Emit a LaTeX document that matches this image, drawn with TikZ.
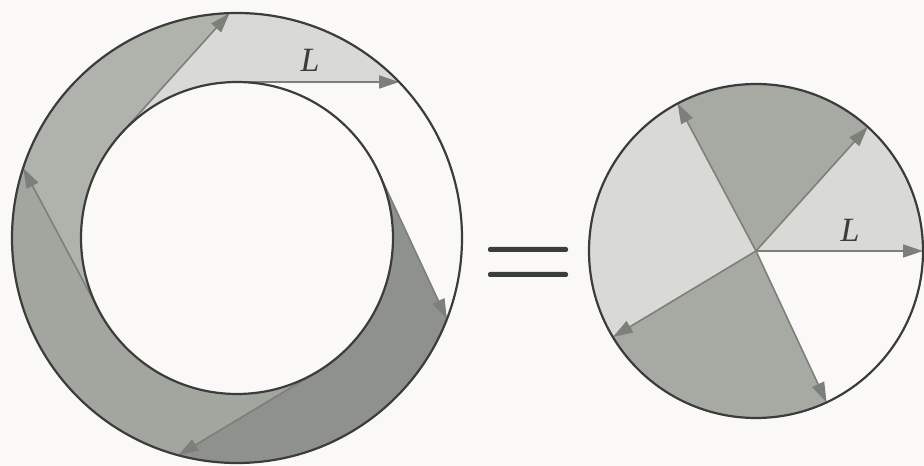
\documentclass[tikz,border=0pt]{standalone}
\usepackage{fontspec}
\newfontfamily\labfont{Liberation Serif}
\usetikzlibrary{arrows.meta}
\definecolor{bg}{HTML}{FAF9F7}
\definecolor{ink}{HTML}{3A3D39}
\definecolor{lite}{HTML}{D9DAD5}
\definecolor{midg}{HTML}{B0B2AC}
\definecolor{midd}{HTML}{A3A69F}
\definecolor{darkg}{HTML}{8F928C}
\definecolor{pied}{HTML}{A7AAA3}
\definecolor{arr}{HTML}{7D807A}
\tikzset{
  rim/.style={draw=ink, line width=2.2pt},
  sweep/.style={draw=arr, line width=1.6pt, -{Triangle[length=20pt,width=13pt]}},
  lbl/.style={font=\labfont\fontsize{34}{34}\selectfont\itshape, text=ink, inner sep=0pt},
  eqbar/.style={fill=ink, rounded corners=2pt}
}
\begin{document}
\begin{tikzpicture}[x=1pt,y=1pt]
\useasboundingbox (0,0) rectangle (924,466);
\fill[bg] (0,0) rectangle (924,466);
\pgfmathsetmacro{\ri}{156}
\pgfmathsetmacro{\ro}{225}
\pgfmathsetmacro{\ph}{acos(\ri/\ro)}
% left annulus
\begin{scope}[shift={(237,228)}]
  \foreach \a/\b/\c in {90/138/lite,138/208/midg,208/301/midd,301/385/darkg}{
    \fill[\c] (\a:\ri) -- ({\a-\ph}:\ro) arc[start angle={\a-\ph}, end angle={\b-\ph}, radius=\ro] -- (\b:\ri) arc[start angle=\b, end angle=\a, radius=\ri] -- cycle;
  }
  \foreach \a/\n in {90/1,138/2,208/3,301/4,385/5}{
    \coordinate (t\n) at (\a:\ri);
    \coordinate (p\n) at ({\a-\ph}:\ro);
  }
  \draw[sweep] (t2) -- (p2);
  \draw[sweep] (t3) -- (p3);
  \draw[sweep] (t4) -- (p4);
  \draw[sweep] (t5) -- (p5);
  \draw[sweep] (t1) -- (p1);
  \draw[rim] (0,0) circle[radius=\ro];
  \draw[rim] (0,0) circle[radius=\ri];
\end{scope}
\node[lbl] (Lleft) at (310,406) {L};
% equals sign
\fill[eqbar] (488,214) rectangle (568,219);
\fill[eqbar] (488,189) rectangle (568,194);
% pie
\begin{scope}[shift={(756,215)}]
  \coordinate (c) at (0,0);
  \foreach \a/\b/\c in {0/48/lite,48/118/pied,118/211/lite,211/295/pied}{
    \fill[\c] (c) -- (\a:167) arc[start angle=\a, end angle=\b, radius=167] -- cycle;
  }
  \foreach \a/\n in {0/1,48/2,118/3,211/4,295/5}{
    \coordinate (q\n) at (\a:167);
    \draw[sweep] (c) -- (q\n);
  }
  \draw[rim] (c) circle[radius=167];
\end{scope}
\node[lbl] (Lright) at (850,236) {L};
\end{tikzpicture}
\end{document}
